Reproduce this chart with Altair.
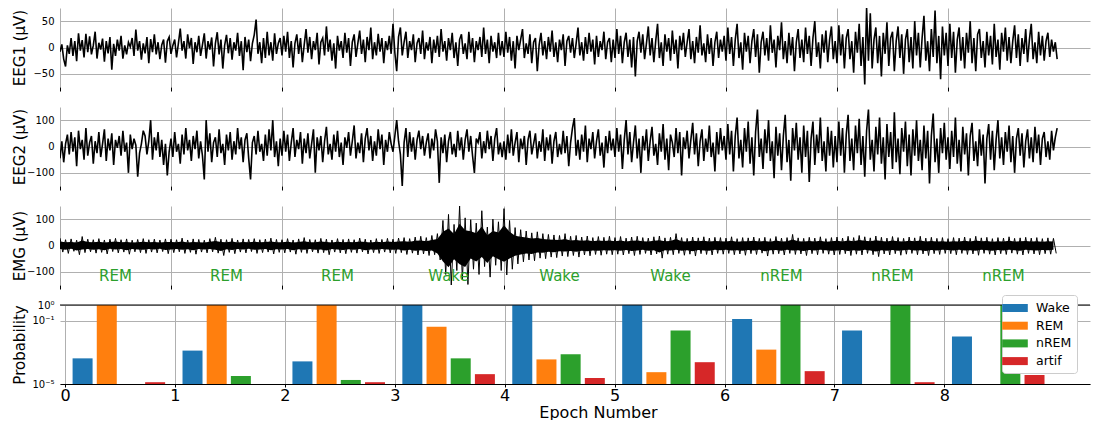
import altair as alt
import pandas as pd

# ---------------- data ----------------
epochs = [0, 1, 2, 3, 4, 5, 6, 7, 8]
stages = ["REM", "REM", "REM", "Wake", "Wake", "Wake", "nREM", "nREM", "nREM"]
classes = ["Wake", "REM", "nREM", "artif"]

# probabilities (log scale, values under 1e-5 are not visible)
p_wake = [4.2e-4, 1.3e-3, 2.7e-4, 1.0, 1.0, 1.0, 0.13, 0.024, 0.01]
p_rem = [1.0, 1.0, 1.0, 0.042, 3.6e-4, 5.6e-5, 1.5e-3, 1e-7, 1e-7]
p_nrem = [1e-7, 3.2e-5, 1.8e-5, 4.2e-4, 7.5e-4, 0.024, 1.0, 1.0, 1.0]
p_artif = [1.3e-5, 1e-7, 1.3e-5, 4.2e-5, 2.4e-5, 2.4e-4, 6.5e-5, 1.3e-5, 3.7e-5]

# EEG1 samples (60 per epoch), µV
eeg1 = [
    -8, 6, -22, -36, 4, -12, 18, -16, 12, -26, 27, -6, 14, -19, 26, -9, 21, -13, 4, 30,
    -21, 9, -4, 17, -27, 12, -11, 20, -42, 7, -16, 15, -6, 22, -21, 4, -13, 10, 1, 18,
    -16, 34, -6, 12, -23, 8, -11, 20, -30, 16, -9, 25, -13, 10, -22, 5, 15, -29, 12, 20,
    -12, 4, 15, -19, 8, 36, -6, 12, -21, 25, -1, 18, -31, 10, -9, 22, -16, 5, 27, -21,
    12, -4, 19, -36, 8, 29, -13, 15, -40, 4, 24, -11, 18, -23, 10, -6, 28, -16, 12, -43,
    20, -9, 15, -26, 8, 24, 53, -12, 10, -30, 18, -20, 30, -15, 10, -25, 27, -12, 8, 18,
    -15, 22, -8, 30, -20, 12, -38, 8, 25, -12, 18, -28, 5, 35, -10, 20, -22, 12, -5, 28,
    -32, 10, 18, -15, 40, -8, 15, -25, 8, -40, 22, -6, 12, -20, 28, -10, 18, -35, 10, 25,
    -18, 8, 32, -12, 15, -28, 20, -5, 38, -22, 10, -15, 26, -8, 18, -30, 12, -5, 22, -12,
    45, -10, -45, 20, 38, -15, 10, 30, -20, 12, -5, 25, -28, 8, 18, -12, 32, -22, 10, -6,
    20, -30, 15, -10, 22, -18, 35, -8, 12, -25, 18, -5, 28, -20, 10, -35, 15, 25, -12, 8,
    -22, 30, -10, 18, -28, 12, -5, 20, -18, 38, -12, 15, -30, 22, -8, 10, -20, 28, -15, 12,
    -18, 30, -10, 20, -25, 12, -40, 22, -5, 15, 35, -20, 8, -12, 25, -30, 10, 18, -45, 5,
    28, -15, 12, -22, 20, -8, 32, -18, 10, -28, 15, -5, 25, -35, 12, 22, -10, 18, -20, 8,
    38, -15, 10, -25, 20, -12, 28, -8, 15, -32, 22, -18, 12, -5, 30, -22, 10, 18, -28, 15,
    -20, 35, -12, 22, -30, 10, 28, -18, 15, -38, 20, -55, 12, 30, -10, 25, -22, 8, 40, -15,
    18, -28, 12, 45, -20, 10, -35, 25, -8, 18, -25, 32, -12, 15, -40, 22, -5, 28, -18, 10,
    35, -22, 12, -30, 20, -10, 42, -15, 8, -28, 25, -12, 18, -35, 10, 30, -20, 15, -8, 22,
    -25, 38, -12, 20, -35, 15, 45, -20, 10, -42, 28, -8, 22, -30, 12, 35, -18, 25, -48, 10,
    30, -15, 18, -25, 42, -10, 15, -38, 22, -5, 48, -22, 12, -30, 28, -15, 20, -45, 10, 35,
    -20, 15, -28, 38, -12, 22, -35, 18, 50, -18, 10, -40, 25, -10, 32, -28, 15, 40, -22, 12,
    -30, 42, -15, 25, -40, 18, 35, -22, 12, -48, 30, -10, 45, -35, 20, -70, 75, -25, 65, -40,
    15, 38, -30, 22, -55, 28, -12, 48, -35, 18, 30, -45, 12, 40, -20, 25, -50, 15, 35, -28,
    20, -40, 50, -15, 28, -38, 18, 60, -25, 12, -45, 35, -18, 70, -30, 22, -60, 40, -15, 28,
    -35, 45, -20, 30, -48, 15, 38, -25, 20, -40, 28, -10, 50, -30, 18, -45, 25, 35, -20, 12,
    -38, 30, -15, 22, -32, 45, -18, 15, -42, 28, -8, 38, -25, 20, -30, 12, 42, -20, 25, -35,
    18, -12, 35, -28, 15, 45, -22, 10, -30, 30, -15, 22, -25, 12, 28, -18, 15, -8, 10, -22,
]

# EEG2 samples (60 per epoch), µV
eeg2 = [
    -45, 20, -60, 10, 45, -30, 55, -20, 35, -75, 60, -10, 25, -50, 70, -35, 15, 40, -65, 20,
    -25, 55, -40, 10, 65, -55, 30, -15, 50, -70, 25, -5, 40, -35, 60, -20, 15, -100, 45, -10,
    30, 5, -115, -25, 10, 60, 40, -30, 20, 100, -50, 35, -15, 55, -40, 25, -70, 10, -110, -20,
    30, -40, 55, -20, 10, -65, 45, -30, 70, -15, 25, -55, 40, -10, 60, -45, 20, -35, -125, 100,
    -20, 50, -60, 15, 35, -40, 65, -25, 10, -70, 45, -15, 55, -50, 20, -30, 70, -10, 35, -60,
    25, 50, -45, -125, 15, 40, -30, 60, -20, 10, -55, 45, -35, 65, -15, 100, -40, 20, -75, 30,
    -35, 60, -20, 45, -55, 15, 70, -40, 25, -10, 55, -65, 30, -25, 50, -45, 10, 65, -100, 35,
    -15, 40, -60, 20, 75, -30, 10, -50, 45, -20, 60, -40, 15, -70, 35, -5, 55, -35, 20, 80,
    -45, 15, -25, 50, -60, 30, 70, -15, 40, -55, 20, -35, 65, -10, 45, -70, 25, -20, 55, 10,
    -20, 40, 100, 20, -30, -150, 15, 70, -40, 55, -20, 35, -50, 25, 60, -10, 40, -35, 15, 50,
    -45, 30, -15, 65, 20, -138, 35, -25, 45, -60, 20, 55, -30, 10, -40, 60, -15, 35, -50, 25,
    65, -20, 40, -35, -100, 30, 15, 55, -45, 20, -25, 60, -10, 40, -55, 30, 70, -30, 15, -40,
    20, -50, 45, -25, 65, -35, 15, 55, -60, 30, -10, 40, -70, 25, 60, -30, 10, 50, -45, 20,
    -20, 65, -55, 35, -15, 45, -65, 20, 55, -40, 10, -30, 60, -25, 40, -75, 15, 70, 108, -35,
    25, -50, 45, -20, 80, -60, 30, -10, 55, -45, 20, 65, -35, 15, -80, 40, -25, 60, -15, 30,
    -40, 70, -20, 45, -85, 25, 100, -30, 55, -60, 15, 80, -45, 30, -100, 40, -15, 65, -55, 20,
    75, -35, 10, -70, 50, -20, 85, -50, 30, -90, 45, 15, -40, 70, -25, 55, -110, 35, -10, 60,
    -45, 25, 90, -30, 50, -75, 20, 65, -55, 30, -20, 80, -40, 15, -95, 55, -30, 70, -15, 40,
    -50, 85, -30, 60, -95, 40, 110, -45, 25, -80, 70, -20, 95, -65, 35, -110, 55, 140, -40, 30,
    -85, 65, -25, 100, -55, 20, -120, 75, -35, 50, -90, 40, 120, -60, 25, -130, 70, -15, 90, -50,
    35, -100, 80, -40, 60, -135, 30, 95, -70, 45, -25, 110, -55, 20, -95, 75, -35, 60, -80, 40,
    -60, 95, -35, 70, -100, 45, 120, -55, 30, -90, 80, -25, 105, -70, 40, -115, 60, 140, -50, 25,
    -95, 75, -30, 110, -65, 35, -125, 85, -40, 55, -85, 130, -60, 30, -105, 70, -20, 95, -75, 45,
    -110, 65, -35, 100, -55, 25, -90, 80, -45, 60, -140, 40, 125, -60, 30, -100, 70, -25, 90, -50,
    35, -85, 60, -40, 110, -65, 25, -95, 75, -30, 50, -110, 40, 90, -55, 20, -75, 65, -35, 45,
    -140, 30, 85, -50, 60, -90, 25, 100, -45, 35, -70, 55, -20, 80, -60, 40, -100, 30, 70, -35,
    50, -80, 20, 65, -45, 35, -60, 75, -25, 45, -70, 30, 55, -40, 20, -50, 60, -15, 35, 70,
]

# EMG: upper / lower excursions, 20 bins per epoch, µV
emg_upper = [
    28, 22, 25, 20, 34, 24, 22, 26, 21, 24, 27, 22, 25, 20, 23, 26, 22, 24, 21, 25,
    24, 22, 28, 21, 25, 23, 20, 26, 31, 24, 22, 27, 21, 25, 23, 26, 22, 24, 28, 23,
    22, 26, 21, 25, 30, 23, 22, 27, 24, 21, 26, 23, 25, 22, 28, 24, 21, 26, 23, 27,
    24, 28, 30, 26, 32, 35, 30, 38, 45, 95, 118, 80, 150, 105, 98, 85, 132, 70, 100, 90,
    140, 95, 68, 60, 55, 48, 52, 45, 42, 40, 38, 45, 35, 38, 32, 36, 30, 34, 31, 35,
    30, 34, 28, 32, 35, 30, 28, 33, 36, 29, 31, 45, 30, 27, 32, 29, 33, 28, 31, 30,
    28, 33, 26, 30, 29, 32, 27, 31, 26, 34, 28, 30, 42, 29, 27, 31, 28, 33, 26, 30,
    32, 28, 35, 30, 38, 33, 29, 36, 31, 28, 34, 30, 27, 32, 29, 35, 28, 31, 27, 30,
    26, 30, 28, 32, 27, 35, 29, 31, 26, 30, 28, 33, 27, 29, 31, 28, 30, 26, 29, 27,
]
emg_lower = [
    -25, -30, -22, -35, -27, -24, -29, -26, -32, -23, -28, -25, -33, -24, -27, -30, -25, -28, -23, -31,
    -27, -24, -30, -26, -33, -25, -28, -24, -29, -38, -26, -31, -25, -28, -23, -30, -27, -25, -32, -26,
    -28, -25, -33, -26, -30, -24, -29, -27, -35, -25, -28, -31, -26, -29, -24, -32, -27, -30, -25, -28,
    -30, -27, -34, -29, -36, -32, -38, -35, -55, -110, -150, -95, -130, -148, -90, -110, -80, -120, -75, -95,
    -112, -90, -70, -62, -55, -58, -48, -50, -44, -46, -40, -42, -38, -44, -36, -39, -34, -37, -33, -35,
    -33, -36, -31, -38, -34, -30, -36, -32, -48, -33, -35, -30, -37, -33, -40, -31, -34, -36, -30, -33,
    -30, -35, -32, -37, -31, -34, -29, -40, -33, -31, -36, -30, -34, -32, -38, -31, -35, -30, -33, -36,
    -34, -31, -38, -33, -36, -30, -35, -42, -32, -36, -31, -37, -33, -30, -35, -32, -38, -31, -34, -30,
    -31, -35, -30, -34, -32, -37, -30, -33, -36, -31, -34, -29, -33, -36, -30, -32, -35, -31, -33, -30,
]

colors = ["#1f77b4", "#ff7f0e", "#2ca02c", "#d62728"]

# ---------------- tables ----------------
SPS = 60
df1 = pd.DataFrame({"t": [i / SPS for i in range(len(eeg1))], "v": eeg1})
df2 = pd.DataFrame({"t": [i / SPS for i in range(len(eeg2))], "v": eeg2})
# dense core of the EMG band (the solid part), and the spiky excursions as a zigzag line
CORE = 0.55
df3 = pd.DataFrame({"t": [k / 20 for k in range(len(emg_upper))],
                    "cu": [CORE * u for u in emg_upper], "cl": [CORE * l for l in emg_lower]})
emg_t, emg_v = [], []
for k, (u, l) in enumerate(zip(emg_upper, emg_lower)):
    emg_t += [k / 20, k / 20 + 1 / 40]
    emg_v += [u, l]
df3z = pd.DataFrame({"t": emg_t, "v": emg_v})
stage_df = pd.DataFrame({"epoch": epochs, "stage": stages})

offsets = {"Wake": 0.16, "REM": 0.38, "nREM": 0.60, "artif": 0.82}
rows = []
for cls, vals in zip(classes, [p_wake, p_rem, p_nrem, p_artif]):
    for e, p in zip(epochs, vals):
        rows.append({"epoch": e, "cls": cls, "p": p, "xpos": e + offsets[cls]})
bar_df = pd.DataFrame(rows)

# ---------------- styling ----------------
PX_PER_EPOCH = 111
W, H = 1030, 79
GRID = "#b0b0b0"
FONT = "DejaVu Sans"
xs = alt.Scale(domain=[0, W / PX_PER_EPOCH], nice=False, zero=False)


def x_axis_top():
    return alt.Axis(values=epochs, labels=False, ticks=True, tickSize=4, tickColor="black",
                    domain=False, grid=True, gridColor=GRID, gridWidth=1, title=None)


def y_axis(title, vals):
    return alt.Axis(title=title, values=vals, ticks=False, labelPadding=6, domain=False,
                    grid=True, gridColor=GRID, gridWidth=1, labelFontSize=10,
                    titleFontSize=15, titleX=-33, titleY=H / 2, titleAngle=270,
                    titleBaseline="bottom", titleAlign="center")


def trace(df, title, dom, vals):
    return alt.Chart(df).mark_line(color="black", strokeWidth=1.6, clip=True).encode(
        x=alt.X("t:Q", scale=xs, axis=x_axis_top()),
        y=alt.Y("v:Q", scale=alt.Scale(domain=dom, nice=False, zero=False), axis=y_axis(title, vals)),
    ).properties(width=W, height=H)


c1 = trace(df1, "EEG1 (μV)", [-75, 75], [-50, 0, 50])
c2 = trace(df2, "EEG2 (μV)", [-150, 150], [-100, 0, 100])

emg_y = alt.Scale(domain=[-150, 150], nice=False, zero=False)
emg_yaxis = y_axis("EMG (μV)", [-100, 0, 100])
emg_area = alt.Chart(df3).mark_area(color="black", clip=True).encode(
    x=alt.X("t:Q", scale=xs, axis=x_axis_top()),
    y=alt.Y("cu:Q", scale=emg_y, axis=emg_yaxis),
    y2="cl:Q",
)
emg_zig = alt.Chart(df3z).mark_line(color="black", strokeWidth=1.0, clip=True).encode(
    x=alt.X("t:Q", scale=xs, axis=x_axis_top()), y=alt.Y("v:Q", scale=emg_y, axis=emg_yaxis)
)
emg_text = alt.Chart(stage_df).transform_calculate(xc="datum.epoch + 0.5").mark_text(
    color="#2ca02c", fontSize=15, font=FONT, baseline="middle"
).encode(x=alt.X("xc:Q", scale=xs, axis=x_axis_top()), y=alt.value(70), text="stage:N")
c3 = alt.layer(emg_area, emg_zig, emg_text).properties(width=W, height=H)

label_expr = "datum.value >= 0.5 ? '10⁰' : (datum.value >= 0.05 ? '10⁻¹' : '10⁻⁵')"
bars = alt.Chart(bar_df).transform_filter("datum.p >= 1e-5").mark_bar(size=20, clip=True).encode(
    x=alt.X("xpos:Q", scale=xs,
            axis=alt.Axis(values=epochs, title="Epoch Number", labelFontSize=16, titleFontSize=16,
                          tickSize=3, tickColor="black", domainColor="black", domainWidth=1.2,
                          grid=True, gridColor=GRID, gridWidth=1, labelPadding=0, titlePadding=1,
                          titleX=538)),
    y=alt.Y("p:Q", stack=None, scale=alt.Scale(type="log", domain=[1e-5, 1], nice=False),
            axis=alt.Axis(values=[1e-5, 0.1, 1], labelExpr=label_expr, title="Probability",
                          ticks=False, labelPadding=6, domain=False, grid=True, gridColor=GRID,
                          gridWidth=1, labelFontSize=10, titleFontSize=15, titleX=-33,
                          titleY=H / 2, titleAngle=270, titleBaseline="bottom", titleAlign="center")),
    y2=alt.value(H),
    color=alt.Color("cls:N", scale=alt.Scale(domain=classes, range=colors),
                    legend=alt.Legend(title=None, orient="none", legendX=942, legendY=-10,
                                      symbolType="M-1.6,-0.5H1.6V0.5H-1.6Z", symbolSize=256,
                                      symbolStrokeWidth=0, symbolOpacity=1, labelFontSize=12.5,
                                      labelOffset=13, rowPadding=2.7, padding=5,
                                      strokeColor="#cccccc", fillColor="white", cornerRadius=3,
                                      labelColor="black")),
)
top_rule = alt.Chart(pd.DataFrame({"one": [1.0]})).mark_rule(color="black", strokeWidth=1.2).encode(
    y=alt.Y("one:Q")
)
c4 = alt.layer(bars, top_rule).properties(width=W, height=H)

chart = alt.vconcat(c1, c2, c3, c4, spacing=20, bounds="flush",
                    padding={"left": 4, "top": 0, "right": 0, "bottom": 0}).resolve_scale(
    color="independent"
).configure(font=FONT).configure_view(stroke=None).configure_axis(
    labelFont=FONT, titleFont=FONT, titleFontWeight="normal", labelColor="black", titleColor="black"
)

chart.save("out.html", embed_options={"renderer": "svg", "actions": False})
